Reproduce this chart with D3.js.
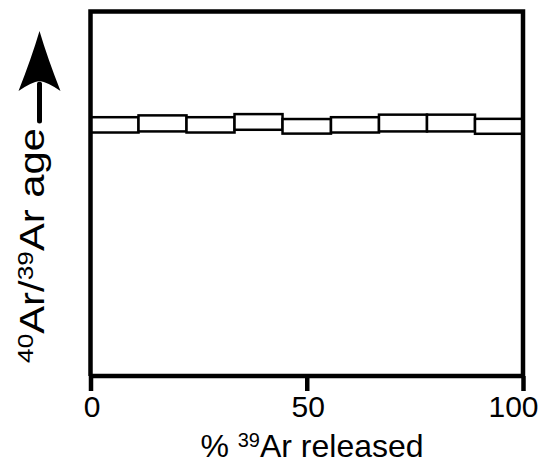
<!DOCTYPE html>
<html>
<head>
<meta charset="utf-8">
<script src="https://cdn.jsdelivr.net/npm/d3@7"></script>
<style>
    body { margin: 0; background: #fff; }
    svg { display: block; }
    text { font-family: "Liberation Sans", Arial, sans-serif; fill: #000; }
</style>
</head>
<body>
<div id="chart"></div>
<script>
// cumulative % 39Ar released at the step boundaries
var releaseEdges = [0, 11.1, 22.2, 33.3, 44.4, 55.6, 66.7, 77.8, 88.9, 100];
// apparent age of each step (arbitrary units, no y ticks in the figure)
var stepAges = [68.9, 69.3, 68.9, 69.7, 68.5, 68.9, 69.4, 69.4, 68.5];
var stepErrors = [2.1, 2.2, 2.1, 2.15, 2.0, 2.1, 2.3, 2.3, 2.05];
var xTicks = [0, 50, 100];

var width = 542, height = 464;
var margin = { left: 90.5, right: 19, top: 11.5, bottom: 88 };

var svg = d3.select('#chart').append('svg')
    .attr('width', width)
    .attr('height', height);

var x = d3.scaleLinear().domain([0, 100]).range([margin.left, width - margin.right]);
var y = d3.scaleLinear().domain([0, 100]).range([height - margin.bottom, margin.top]);

var steps = stepAges.map(function (age, i) {
    return { x0: releaseEdges[i], x1: releaseEdges[i + 1], age: age, err: stepErrors[i] };
});

// age spectrum boxes
svg.append('g').selectAll('rect')
    .data(steps)
    .enter().append('rect')
    .attr('x', function (d) { return x(d.x0); })
    .attr('width', function (d) { return x(d.x1) - x(d.x0); })
    .attr('y', function (d) { return y(d.age + d.err); })
    .attr('height', function (d) { return y(d.age - d.err) - y(d.age + d.err); })
    .attr('fill', '#fff')
    .attr('stroke', '#000')
    .attr('stroke-width', 2.5);

// frame: left, top, right
svg.append('path')
    .attr('d', 'M' + x(0) + ',' + y(0) + 'V' + y(100) + 'H' + x(100) + 'V' + y(0))
    .attr('fill', 'none')
    .attr('stroke', '#000')
    .attr('stroke-width', 4.5)
    .attr('stroke-linejoin', 'miter');

// bottom axis
var xAxis = d3.axisBottom(x)
    .tickValues(xTicks)
    .tickSize(15)
    .tickPadding(4)
    .tickSizeOuter(0);

var gx = svg.append('g')
    .attr('transform', 'translate(0,' + y(0) + ')')
    .call(xAxis);

gx.select('.domain')
    .attr('stroke', '#000')
    .attr('stroke-width', 4.5)
    .attr('d', 'M' + x(0) + ',0H' + x(100));
gx.selectAll('.tick line')
    .attr('stroke', '#000')
    .attr('stroke-width', 4.5);
gx.selectAll('.tick text')
    .attr('font-size', 30)
    .attr('font-family', '"Liberation Sans", Arial, sans-serif')
    .attr('fill', '#000')
    .attr('dy', '0.72em')
    .attr('dx', function (d) { return d === 100 ? -10 : 1; });

// x title
var xt = svg.append('text')
    .attr('x', 312)
    .attr('y', 456.5)
    .attr('text-anchor', 'middle')
    .attr('font-size', 32);
xt.append('tspan').text('% ');
xt.append('tspan').text('39').attr('font-size', 20).attr('dy', -10);
xt.append('tspan').text('Ar released').attr('dy', 10);

// y title, rotated and stretched along its length like the original
var yl = svg.append('g');
var yt = yl.append('text')
    .attr('text-anchor', 'middle')
    .attr('font-size', 35);
yt.append('tspan').text('40').attr('font-size', 22).attr('dy', -11);
yt.append('tspan').text('Ar/').attr('dy', 11);
yt.append('tspan').text('39').attr('font-size', 22).attr('dy', -11);
yt.append('tspan').text('Ar age').attr('dy', 11);

var natural = yt.node().getComputedTextLength();
var target = 235;
yl.attr('transform', 'translate(44,' + 245.5 + ') rotate(-90) scale(' + (target / natural) + ',1)');

// arrow pointing to older ages
var ax = 39.5;
svg.append('line')
    .attr('x1', ax).attr('x2', ax)
    .attr('y1', 121).attr('y2', 84)
    .attr('stroke', '#000')
    .attr('stroke-width', 5)
    .attr('stroke-linecap', 'round');

svg.append('path')
    .attr('d', 'M' + ax + ',31 Q' + (ax + 8) + ',58 ' + (ax + 21) + ',91 Q' + (ax + 8) + ',82 ' + ax + ',81 Q' + (ax - 8) + ',82 ' + (ax - 21) + ',91 Q' + (ax - 8) + ',58 ' + ax + ',31Z')
    .attr('fill', '#000');
</script>
</body>
</html>
